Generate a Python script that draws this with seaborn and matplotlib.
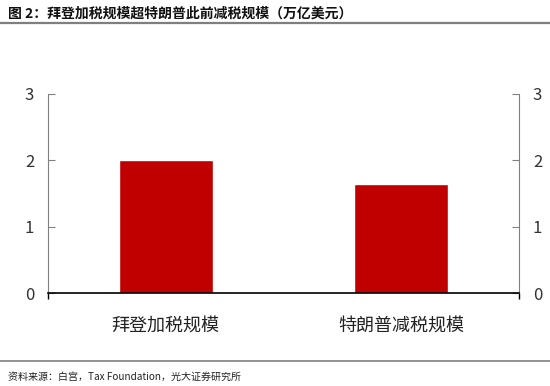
import matplotlib
matplotlib.use('Agg')
import matplotlib.pyplot as plt
import seaborn as sns
import pandas as pd

# data
categories = ['拜登加税规模', '特朗普减税规模']
values = [2.0, 1.65]
y_ticks = [0, 1, 2, 3]

title_text = '图 2：拜登加税规模超特朗普此前减税规模（万亿美元）'
source_text = '资料来源：白宫，Tax Foundation，光大证券研究所'

sns.set_style('white')
plt.rcParams['font.family'] = ['Noto Sans CJK SC', 'DejaVu Sans']

df = pd.DataFrame({'category': categories, 'value': values})

fig = plt.figure(figsize=(5.5, 3.86), dpi=100)
ax = fig.add_axes([48 / 550, 1 - 293 / 386, 471 / 550, 199 / 386])

sns.barplot(data=df, x='category', y='value', color='#C00000', width=0.4,
            saturation=1, ax=ax)

ax.set_xlim(-0.5, 1.5)
ax.set_ylim(0, 3)
ax.set_yticks(y_ticks)
ax.set_xlabel('')
ax.set_ylabel('')

for side in ['left', 'right']:
    ax.spines[side].set_visible(True)
    ax.spines[side].set_color('#808080')
    ax.spines[side].set_linewidth(0.8)
ax.spines['top'].set_visible(False)
ax.spines['bottom'].set_color('black')
ax.spines['bottom'].set_linewidth(1.2)

ax.tick_params(axis='y', which='both', direction='in', length=5, width=0.8,
               color='#808080', labelsize=12, labelcolor='#333333', pad=10,
               left=True, right=True, labelleft=True, labelright=True)
ax.tick_params(axis='x', which='major', length=0, labelsize=13,
               labelcolor='#222222', pad=17)
ax.set_xticks([-0.5, 1.5], minor=True)
ax.tick_params(axis='x', which='minor', direction='out', length=4,
               width=1.0, color='black', bottom=True)

# header / footer
fig.text(8 / 550, 1 - 14 / 386, title_text, fontsize=10, fontweight='bold',
         va='center', ha='left', color='#111111')
fig.add_artist(plt.Line2D([0, 1], [1 - 23 / 386] * 2, color='#7f7f7f',
                          linewidth=1.6, transform=fig.transFigure))
fig.add_artist(plt.Line2D([0, 1], [1 - 361 / 386] * 2, color='#7f7f7f',
                          linewidth=1.2, transform=fig.transFigure))
fig.text(8 / 550, 1 - 377 / 386, source_text, fontsize=7.2, va='center',
         ha='left', color='#222222')

fig.savefig('out.png', dpi=100)
